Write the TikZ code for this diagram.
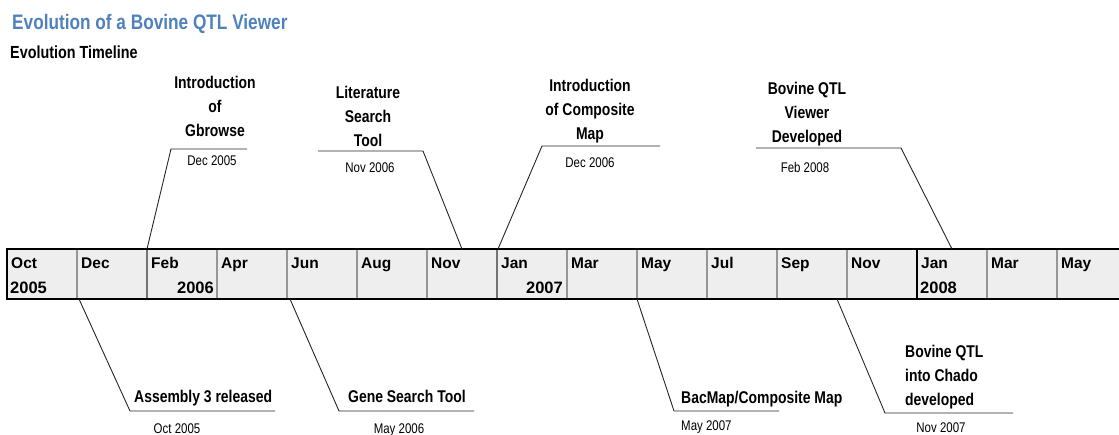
\documentclass[tikz,border=0pt]{standalone}
\usepackage{fontspec}
\setmainfont{Liberation Sans}
\newfontfamily\narrowfont{Liberation Sans}[FakeStretch=0.82]
\definecolor{titleblue}{RGB}{79,129,189}
\definecolor{cellgray}{RGB}{238,238,238}
\definecolor{divgray}{RGB}{150,150,150}

\begin{document}
\begin{tikzpicture}[x=1pt,y=-1pt,
  evtlabel/.style={inner sep=0pt, align=center,
    font={\narrowfont\bfseries\fontsize{17}{24}\selectfont}},
  datelabel/.style={inner sep=0pt, anchor=base,
    font={\narrowfont\fontsize{14}{16}\selectfont}},
  monthlabel/.style={inner sep=0pt, anchor=base west,
    font={\bfseries\fontsize{15.5}{18}\selectfont}},
  yearlabel/.style={inner sep=0pt,
    font={\bfseries\fontsize{16.5}{18}\selectfont}},
  leader/.style={draw=black!85, line width=0.9pt},
  celldiv/.style={draw=divgray, line width=1.4pt},
  bardiv/.style={draw=black!55, line width=2pt},
  yeardiv/.style={draw=black, line width=1.6pt},
  barframe/.style={draw=black, line width=2.6pt}
]
\useasboundingbox (0,0) rectangle (1119,434);

% headings
\node[anchor=base west, inner sep=0pt, text=titleblue,
  font={\narrowfont\bfseries\fontsize{21}{25}\selectfont}] (title) at (12,29)
  {Evolution of a Bovine QTL Viewer};
\node[anchor=base west, inner sep=0pt,
  font={\narrowfont\bfseries\fontsize{17.5}{20}\selectfont}] (subtitle) at (10,58)
  {Evolution Timeline};

% timeline bar
\fill[cellgray] (7,249) rectangle (1119,299);
\foreach \i in {1,3,4,5,6,8,9,10,11,12,14,15}
  \draw[celldiv] ({7+70*\i},250) -- ({7+70*\i},298);
\draw[bardiv] (147,250) -- (147,298);
\draw[bardiv] (497,250) -- (497,298);
\draw[yeardiv] (917,250) -- (917,298);
\draw[barframe] (1119,249) -- (7,249) -- (7,299) -- (1119,299);

\foreach \m [count=\i from 0] in {Oct,Dec,Feb,Apr,Jun,Aug,Nov,Jan,Mar,May,Jul,Sep,Nov,Jan,Mar,May}
  \node[monthlabel] (month\i) at ({7+70*\i+4},268) {\m};
\node[yearlabel, anchor=base west] (y2005) at (10,293) {2005};
\node[yearlabel, anchor=base east] (y2006) at (214,293) {2006};
\node[yearlabel, anchor=base east] (y2007) at (563,293) {2007};
\node[yearlabel, anchor=base west] (y2008) at (920,293) {2008};

% events above the bar
\node[evtlabel, anchor=north] (gbrowse) at (215,76) {Introduction\\of\\Gbrowse};
\node[datelabel] (gbrowse-date) at (212,165) {Dec 2005};
\coordinate (gbrowse-bar) at (147,249);
\coordinate (gbrowse-knee) at (171,149);
\coordinate (gbrowse-end) at (247,149);
\draw[leader] (gbrowse-bar) -- (gbrowse-knee) -- (gbrowse-end);

\node[evtlabel, anchor=north] (litsearch) at (368,86) {Literature\\Search\\Tool};
\node[datelabel] (litsearch-date) at (370,172) {Nov 2006};
\coordinate (litsearch-bar) at (462,249);
\coordinate (litsearch-knee) at (423,151);
\coordinate (litsearch-end) at (318,151);
\draw[leader] (litsearch-bar) -- (litsearch-knee) -- (litsearch-end);

\node[evtlabel, anchor=north] (compmap) at (590,79) {Introduction\\of Composite\\Map};
\node[datelabel] (compmap-date) at (590,167) {Dec 2006};
\coordinate (compmap-bar) at (498,249);
\coordinate (compmap-knee) at (542,146);
\coordinate (compmap-end) at (660,146);
\draw[leader] (compmap-bar) -- (compmap-knee) -- (compmap-end);

\node[evtlabel, anchor=north] (viewer) at (807,82) {Bovine QTL\\Viewer\\Developed};
\node[datelabel] (viewer-date) at (805,172) {Feb 2008};
\coordinate (viewer-bar) at (952,249);
\coordinate (viewer-knee) at (901,148);
\coordinate (viewer-end) at (756,148);
\draw[leader] (viewer-bar) -- (viewer-knee) -- (viewer-end);

% events below the bar
\node[evtlabel, anchor=base west] (assembly) at (134,402) {Assembly 3 released};
\node[datelabel] (assembly-date) at (177,433) {Oct 2005};
\coordinate (assembly-bar) at (79,299);
\coordinate (assembly-knee) at (130,411);
\coordinate (assembly-end) at (275,411);
\draw[leader] (assembly-bar) -- (assembly-knee) -- (assembly-end);

\node[evtlabel, anchor=base west] (genesearch) at (348,402) {Gene Search Tool};
\node[datelabel] (genesearch-date) at (399,433) {May 2006};
\coordinate (genesearch-bar) at (290,299);
\coordinate (genesearch-knee) at (339,411);
\coordinate (genesearch-end) at (474,411);
\draw[leader] (genesearch-bar) -- (genesearch-knee) -- (genesearch-end);

\node[evtlabel, anchor=base west] (bacmap) at (681,403) {BacMap/Composite Map};
\node[datelabel, anchor=base west] (bacmap-date) at (681,430) {May 2007};
\coordinate (bacmap-bar) at (637,299);
\coordinate (bacmap-knee) at (674,411);
\coordinate (bacmap-end) at (779,411);
\draw[leader] (bacmap-bar) -- (bacmap-knee) -- (bacmap-end);

\node[evtlabel, align=left, anchor=north west] (chado) at (905,345) {Bovine QTL\\into Chado\\developed};
\node[datelabel] (chado-date) at (941,432) {Nov 2007};
\coordinate (chado-bar) at (837,299);
\coordinate (chado-knee) at (885,413);
\coordinate (chado-end) at (1013,413);
\draw[leader] (chado-bar) -- (chado-knee) -- (chado-end);
\end{tikzpicture}
\end{document}
